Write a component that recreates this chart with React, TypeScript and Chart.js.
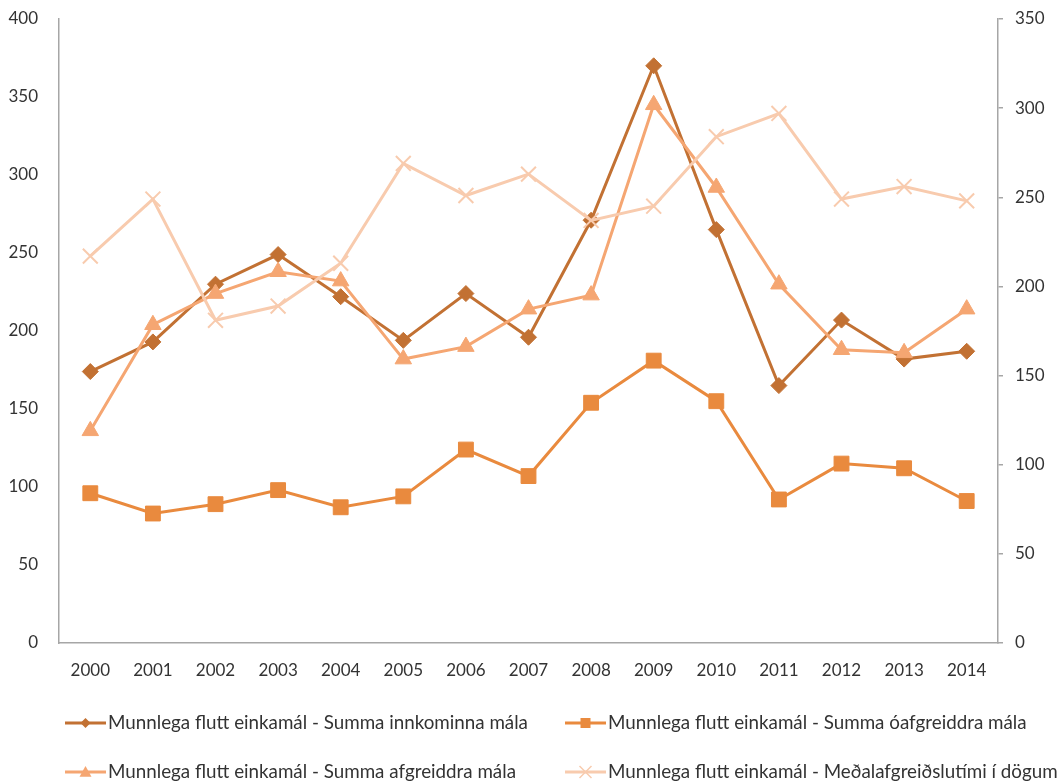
import React, { useEffect, useRef } from "react";
import { Chart, registerables } from "chart.js";

Chart.register(...registerables);

const years = ["2000","2001","2002","2003","2004","2005","2006","2007","2008","2009","2010","2011","2012","2013","2014"];
const innkominna = [174,193,230,249,222,194,224,196,271,370,265,165,207,182,187];
const oafgreiddra = [96,83,89,98,87,94,124,107,154,181,155,92,115,112,91];
const afgreiddra = [136,204,224,238,232,182,190,214,223,345,292,230,188,186,214];
const medaltimi = [217,249,181,189,213,269,251,263,237,245,284,297,249,256,248];

const seriesNames = [
  "Munnlega flutt einkamál - Summa innkominna mála",
  "Munnlega flutt einkamál - Summa óafgreiddra mála",
  "Munnlega flutt einkamál - Summa afgreiddra mála",
  "Munnlega flutt einkamál - Meðalafgreiðslutími í dögum",
];
const colors = ["#C27133", "#E98A3E", "#F5A672", "#F8CBAE"];
const styles = ["rectRot", "rect", "triangle", "crossRot"];

const FONT = "Lato";
const TEXT = "#333333";
const AXIS = "#A6A6A6";

function drawMarker(ctx: CanvasRenderingContext2D, style: string, x: number, y: number, r: number, color: string) {
  ctx.save();
  ctx.fillStyle = color;
  ctx.strokeStyle = color;
  ctx.beginPath();
  if (style === "rectRot") {
    ctx.moveTo(x, y - r); ctx.lineTo(x + r, y); ctx.lineTo(x, y + r); ctx.lineTo(x - r, y); ctx.closePath(); ctx.fill();
  } else if (style === "rect") {
    ctx.rect(x - r, y - r, 2 * r, 2 * r); ctx.fill();
  } else if (style === "triangle") {
    ctx.moveTo(x, y - r); ctx.lineTo(x + r, y + r * 0.8); ctx.lineTo(x - r, y + r * 0.8); ctx.closePath(); ctx.fill();
  } else {
    ctx.lineWidth = 1.5;
    ctx.moveTo(x - r, y - r); ctx.lineTo(x + r, y + r); ctx.moveTo(x + r, y - r); ctx.lineTo(x - r, y + r); ctx.stroke();
  }
  ctx.restore();
}

const legendPlugin = {
  id: "gridLegend",
  afterDraw(chart: any) {
    const ctx = chart.ctx as CanvasRenderingContext2D;
    const cols = [65, 565];
    const rows = [723, 772];
    ctx.save();
    seriesNames.forEach((name, i) => {
      const x = cols[i % 2];
      const y = rows[Math.floor(i / 2)];
      ctx.strokeStyle = colors[i];
      ctx.lineWidth = 3;
      ctx.beginPath();
      ctx.moveTo(x, y);
      ctx.lineTo(x + 41, y);
      ctx.stroke();
      const rr = [5, 5, 6, 6][i];
      drawMarker(ctx, styles[i], x + 20.5, y, rr, colors[i]);
      ctx.fillStyle = TEXT;
      ctx.font = `18.8px ${FONT}`;
      ctx.textBaseline = "middle";
      ctx.textAlign = "left";
      ctx.fillText(name, x + 43, y);
    });
    ctx.restore();
  },
};

export default function App() {
  const ref = useRef<HTMLCanvasElement | null>(null);
  useEffect(() => {
    document.body.style.margin = "0";
    if (!ref.current) return;
    const mk = (data: number[], i: number, axis: string, radius: number, order: number) => ({
      label: seriesNames[i],
      data,
      yAxisID: axis,
      borderColor: colors[i],
      backgroundColor: colors[i],
      borderWidth: 3,
      pointStyle: styles[i],
      pointRadius: radius,
      pointBorderWidth: i === 3 ? 2 : 1,
      pointBorderColor: colors[i],
      pointBackgroundColor: colors[i],
      tension: 0,
      order,
    });
    const noPadY = (w: number) => (s: any) => { s.width = w; s.paddingTop = 0; s.paddingBottom = 0; };
    const chart = new Chart(ref.current, {
      type: "line",
      data: {
        labels: years,
        datasets: [
          mk(innkominna, 0, "y", 8, 4),
          mk(oafgreiddra, 1, "y", 10.5, 3),
          mk(afgreiddra, 2, "y", 9.5, 2),
          mk(medaltimi, 3, "y1", 10.5, 1),
        ] as any,
      },
      options: {
        animation: false,
        responsive: false,
        devicePixelRatio: 1,
        layout: { padding: { top: 19, bottom: 99, left: 0, right: 0 } },
        plugins: { legend: { display: false }, tooltip: { enabled: false } },
        scales: {
          x: {
            offset: true,
            grid: { display: false },
            border: { display: true, color: AXIS, width: 1.5 },
            ticks: { color: TEXT, font: { family: FONT, size: 17 }, padding: 9, maxRotation: 0 },
            afterFit: (s: any) => { s.height = 40; s.paddingLeft = 0; s.paddingRight = 0; },
          },
          y: {
            position: "left",
            min: 0,
            max: 400,
            grid: { display: false },
            border: { display: true, color: AXIS, width: 1.5 },
            ticks: { stepSize: 50, color: TEXT, font: { family: FONT, size: 17 }, padding: 13 },
            afterFit: noPadY(59),
          },
          y1: {
            position: "right",
            min: 0,
            max: 350,
            grid: { display: true, drawOnChartArea: false, drawTicks: true, tickLength: 5, color: AXIS, lineWidth: 1.5 },
            border: { display: true, color: AXIS, width: 1.5 },
            ticks: { stepSize: 50, color: TEXT, font: { family: FONT, size: 17 }, padding: 12 },
            afterFit: noPadY(62),
          },
        },
      } as any,
      plugins: [legendPlugin],
    });
    return () => chart.destroy();
  }, []);
  return <canvas ref={ref} width={1060} height={782} style={{ display: "block" }} />;
}
